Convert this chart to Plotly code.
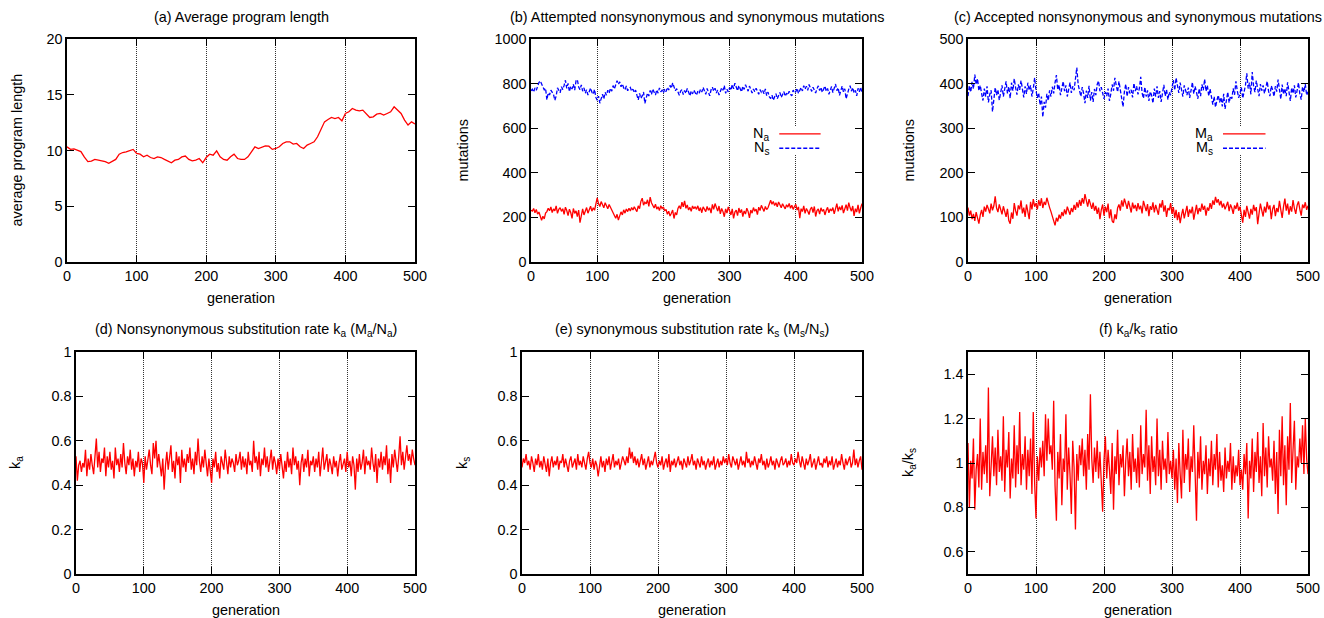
import plotly.graph_objects as go

# ---------------- data ----------------
GEN_LEN = list(range(0, 501, 5))
avg_length = [
    10.33, 10.10, 10.15, 10.03, 9.90, 9.40, 9.00, 9.05, 9.20, 9.13,
    9.07, 9.00, 8.85, 9.00, 9.20, 9.67, 9.82, 9.88, 9.97, 10.10,
    9.73, 9.67, 9.43, 9.58, 9.37, 9.28, 9.43, 9.37, 9.20, 9.07,
    8.90, 9.13, 9.20, 9.43, 9.50, 9.20, 9.07, 9.13, 9.28, 8.90,
    9.37, 9.67, 9.58, 9.97, 9.43, 9.20, 9.13, 9.43, 9.67, 9.28,
    9.20, 9.20, 9.43, 9.88, 10.33, 10.18, 10.33, 10.42, 10.39, 10.10,
    10.18, 10.33, 10.63, 10.78, 10.78, 10.57, 10.63, 10.33, 10.18, 10.48,
    10.63, 10.78, 11.23, 11.83, 12.57, 12.78, 12.96, 12.87, 12.96, 12.66,
    13.32, 13.47, 13.77, 13.62, 13.56, 13.62, 13.32, 12.96, 13.02, 13.26,
    13.32, 13.17, 13.32, 13.47, 13.92, 13.62, 13.32, 12.72, 12.28, 12.57,
    12.37,
]

GEN = list(range(0, 501, 2))

Na = [
    232, 228, 240, 221, 236, 215, 224, 198, 187, 205, 193, 219, 226, 241, 230, 247, 222, 238, 229, 252, 218, 236, 244, 227, 239,
    214, 246, 231, 208, 237, 222, 196, 240, 218, 229, 204, 233, 176, 215, 238, 211, 226, 244, 219, 237, 250, 228, 243, 232, 256,
    288, 262, 249, 271, 255, 243, 266, 251, 239, 258, 247, 231, 222, 208, 196, 214, 188, 207, 225, 211, 234, 219, 238, 226, 241,
    229, 244, 233, 248, 236, 226, 252, 239, 272, 286, 255, 268, 261, 279, 249, 291, 266, 253, 242, 259, 237, 248, 231, 252, 240,
    247, 229, 236, 214, 228, 206, 219, 233, 195, 222, 211, 240, 252, 238, 268, 247, 274, 241, 256, 233, 245, 227, 251, 239, 248,
    236, 252, 229, 244, 221, 247, 238, 226, 249, 232, 243, 219, 258, 236, 262, 244, 228, 251, 216, 240, 226, 203, 238, 219, 247,
    229, 211, 238, 196, 224, 233, 208, 242, 221, 236, 204, 229, 215, 241, 226, 198, 233, 219, 244, 228, 237, 212, 246, 231, 254,
    238, 227, 249, 235, 243, 262, 277, 259, 271, 253, 266, 248, 269, 257, 243, 261, 250, 238, 257, 246, 263, 241, 255, 236, 249,
    258, 233, 247, 197, 239, 226, 252, 218, 240, 229, 213, 237, 246, 222, 249, 204, 231, 238, 215, 243, 227, 236, 211, 232, 245,
    221, 238, 229, 244, 216, 235, 262, 227, 248, 233, 254, 219, 241, 257, 230, 266, 243, 228, 251, 207, 239, 224, 256, 218, 242,
    262,
]

Ns = [
    768, 775, 762, 781, 770, 789, 805, 812, 798, 786, 772, 779, 727, 758, 749, 771, 763, 752, 725, 744, 781, 768, 759, 786, 773,
    792, 815, 779, 801, 764, 788, 776, 797, 771, 812, 818, 785, 773, 794, 766, 781, 757, 772, 749, 768, 780, 761, 752, 774, 738,
    725, 744, 712, 738, 752, 731, 761, 748, 770, 757, 779, 766, 791, 776, 802, 813, 797, 808, 786, 799, 781, 772, 789, 768, 777,
    783, 766, 775, 759, 771, 748, 727, 756, 734, 745, 762, 711, 739, 758, 744, 769, 752, 776, 761, 749, 772, 757, 781, 763, 770,
    758, 776, 764, 783, 771, 792, 779, 803, 785, 768, 777, 759, 748, 766, 773, 751, 769, 756, 778, 762, 745, 767, 754, 771, 760,
    748, 766, 757, 774, 762, 783, 769, 752, 778, 761, 745, 772, 784, 766, 779, 758, 771, 749, 764, 781, 770, 791, 756, 775, 763,
    782, 770, 796, 777, 802, 785, 768, 791, 779, 763, 788, 774, 795, 781, 766, 789, 772, 758, 776, 764, 779, 767, 752, 773, 761,
    769, 754, 776, 746, 762, 741, 733, 748, 725, 739, 755, 732, 747, 760, 738, 751, 764, 743, 757, 749, 766, 752, 745, 771, 758,
    764, 779, 756, 772, 783, 767, 791, 775, 788, 770, 796, 781, 765, 784, 772, 758, 777, 790, 769, 783, 761, 774, 789, 766, 778,
    752, 771, 787, 760, 776, 798, 768, 781, 747, 772, 789, 763, 777, 732, 759, 775, 791, 766, 782, 758, 770, 745, 779, 763, 784,
    757,
]

Ma = [
    122, 104, 115, 96, 108, 92, 112, 99, 86, 105, 117, 101, 124, 113, 128, 119, 109, 131, 116, 126, 147, 121, 112, 129, 118,
    107, 125, 114, 101, 119, 93, 86, 111, 97, 132, 115, 104, 127, 118, 138, 109, 122, 101, 129, 113, 96, 135, 118, 141, 124,
    132, 118, 139, 126, 143, 121, 135, 128, 144, 131, 122, 113, 104, 95, 82, 99, 91, 106, 97, 112, 103, 118, 107, 124, 113,
    106, 121, 112, 128, 117, 134, 122, 139, 126, 143, 131, 152, 137, 124, 141, 128, 119, 133, 115, 126, 108, 122, 96, 117, 129,
    104, 124, 112, 131, 98, 118, 92, 88, 107, 96, 121, 129, 115, 138, 124, 142, 131, 119, 137, 125, 111, 133, 120, 128, 114,
    132, 118, 126, 109, 137, 121, 114, 130, 103, 125, 117, 134, 111, 128, 119, 106, 131, 122, 139, 113, 127, 101, 121, 116, 132,
    108, 123, 99, 117, 94, 112, 87, 105, 119, 98, 113, 126, 101, 118, 109, 124, 95, 116, 128, 107, 121, 113, 131, 117, 126,
    104, 122, 115, 132, 119, 138, 128, 146, 133, 141, 127, 137, 122, 131, 118, 126, 135, 114, 129, 121, 108, 127, 119, 133, 115,
    124, 109, 88, 117, 101, 126, 113, 97, 119, 106, 128, 114, 123, 85, 109, 131, 116, 102, 124, 111, 135, 118, 127, 96, 119,
    128, 103, 121, 112, 137, 117, 99, 124, 142, 115, 131, 106, 125, 113, 139, 120, 108, 127, 136, 118, 104, 129, 121, 134, 117,
    126,
]

Ms = [
    372, 395, 381, 404, 388, 420, 398, 411, 384, 396, 378, 362, 389, 371, 394, 358, 376, 385, 337, 369, 391, 374, 386, 363, 380,
    396, 371, 389, 405, 378, 393, 367, 402, 384, 411, 391, 375, 398, 386, 407, 381, 369, 394, 377, 402, 385, 396, 371, 389, 413,
    384, 368, 379, 352, 371, 325, 359, 346, 377, 362, 385, 371, 393, 378, 402, 419, 386, 397, 374, 391, 405, 383, 396, 371, 388,
    402, 379, 394, 385, 411, 436, 398, 387, 371, 392, 378, 356, 384, 368, 395, 362, 381, 359, 388, 374, 398, 406, 383, 392, 378,
    366, 381, 372, 389, 361, 377, 398, 384, 413, 396, 381, 405, 387, 373, 348, 382, 399, 371, 392, 378, 386, 369, 401, 383, 394,
    376, 389, 415, 379, 367, 392, 371, 385, 361, 382, 374, 356, 389, 371, 394, 368, 383, 359, 378, 397, 372, 386, 364, 381, 374,
    392, 408, 385, 413, 396, 379, 402, 388, 371, 396, 382, 374, 391, 368, 385, 403, 377, 394, 381, 366, 389, 372, 398, 385, 410,
    383, 396, 372, 388, 366, 353, 371, 347, 362, 374, 358, 369, 349, 377, 343, 365, 381, 357, 372, 366, 389, 375, 405, 384, 368,
    378, 392, 367, 381, 396, 423, 389, 402, 376, 426, 394, 381, 407, 388, 372, 399, 384, 396, 378, 391, 405, 383, 372, 395, 386,
    371, 394, 382, 409, 387, 365, 398, 376, 389, 372, 403, 384, 361, 391, 378, 396, 369, 385, 402, 377, 364, 393, 381, 399, 374,
    382,
]

ka = [
    0.53, 0.42, 0.49, 0.51, 0.46, 0.50, 0.48, 0.56, 0.44, 0.52, 0.47, 0.54, 0.49, 0.45, 0.53, 0.61, 0.48, 0.55, 0.46, 0.52, 0.50, 0.57, 0.44, 0.53, 0.48,
    0.55, 0.47, 0.51, 0.43, 0.57, 0.49, 0.52, 0.46, 0.54, 0.48, 0.59, 0.50, 0.45, 0.53, 0.49, 0.56, 0.47, 0.52, 0.44, 0.51, 0.48, 0.55, 0.46, 0.52, 0.50,
    0.41, 0.53, 0.47, 0.51, 0.56, 0.49, 0.45, 0.59, 0.52, 0.60, 0.48, 0.54, 0.50, 0.44, 0.52, 0.38, 0.49, 0.55, 0.47, 0.53, 0.58, 0.46, 0.51, 0.43, 0.55,
    0.49, 0.53, 0.41, 0.56, 0.48, 0.52, 0.46, 0.54, 0.50, 0.57, 0.47, 0.52, 0.45, 0.55, 0.49, 0.61, 0.51, 0.46, 0.53, 0.48, 0.56, 0.50, 0.44, 0.52, 0.47,
    0.41, 0.52, 0.48, 0.55, 0.46, 0.50, 0.43, 0.53, 0.49, 0.47, 0.56, 0.51, 0.45, 0.53, 0.48, 0.52, 0.50, 0.46, 0.54, 0.49, 0.51, 0.55, 0.47, 0.53, 0.48,
    0.52, 0.45, 0.55, 0.49, 0.51, 0.46, 0.60, 0.50, 0.53, 0.47, 0.55, 0.44, 0.52, 0.49, 0.57, 0.48, 0.53, 0.46, 0.51, 0.56, 0.47, 0.53, 0.50, 0.45, 0.52,
    0.47, 0.54, 0.49, 0.43, 0.51, 0.46, 0.55, 0.48, 0.52, 0.45, 0.57, 0.49, 0.53, 0.47, 0.51, 0.40, 0.50, 0.54, 0.46, 0.52, 0.48, 0.56, 0.44, 0.51, 0.49,
    0.53, 0.46, 0.52, 0.48, 0.55, 0.44, 0.51, 0.57, 0.47, 0.50, 0.54, 0.46, 0.52, 0.49, 0.45, 0.53, 0.48, 0.51, 0.44, 0.50, 0.54, 0.47, 0.49, 0.52, 0.46,
    0.55, 0.48, 0.51, 0.44, 0.53, 0.49, 0.38, 0.52, 0.46, 0.54, 0.47, 0.50, 0.56, 0.45, 0.53, 0.49, 0.51, 0.47, 0.57, 0.50, 0.46, 0.54, 0.41, 0.52, 0.48,
    0.55, 0.47, 0.53, 0.49, 0.58, 0.45, 0.52, 0.41, 0.54, 0.48, 0.56, 0.50, 0.46, 0.53, 0.62, 0.49, 0.55, 0.47, 0.52, 0.58, 0.51, 0.54, 0.49, 0.56, 0.52,
    0.49,
]

ks = [
    0.48, 0.52, 0.50, 0.54, 0.49, 0.51, 0.47, 0.53, 0.50, 0.46, 0.52, 0.49, 0.54, 0.48, 0.51, 0.47, 0.53, 0.50, 0.46, 0.52, 0.44, 0.50, 0.53, 0.48, 0.51,
    0.49, 0.53, 0.47, 0.51, 0.50, 0.54, 0.48, 0.52, 0.49, 0.46, 0.51, 0.53, 0.48, 0.50, 0.52, 0.47, 0.54, 0.49, 0.51, 0.48, 0.53, 0.50, 0.47, 0.52, 0.55,
    0.50, 0.48, 0.52, 0.47, 0.51, 0.49, 0.44, 0.50, 0.53, 0.48, 0.51, 0.46, 0.52, 0.49, 0.53, 0.47, 0.50, 0.54, 0.48, 0.51, 0.49, 0.52, 0.47, 0.50, 0.53,
    0.51, 0.49, 0.53, 0.50, 0.57, 0.52, 0.55, 0.50, 0.53, 0.49, 0.52, 0.48, 0.51, 0.54, 0.49, 0.52, 0.47, 0.50, 0.53, 0.48, 0.51, 0.49, 0.52, 0.55, 0.50,
    0.48, 0.51, 0.49, 0.53, 0.47, 0.50, 0.52, 0.48, 0.54, 0.46, 0.51, 0.49, 0.52, 0.48, 0.50, 0.53, 0.49, 0.51, 0.47, 0.52, 0.50, 0.48, 0.53, 0.49, 0.51,
    0.54, 0.49, 0.51, 0.47, 0.52, 0.50, 0.48, 0.53, 0.49, 0.51, 0.47, 0.50, 0.52, 0.48, 0.51, 0.49, 0.53, 0.47, 0.50, 0.52, 0.48, 0.51, 0.49, 0.53, 0.50,
    0.52, 0.49, 0.54, 0.50, 0.48, 0.53, 0.51, 0.49, 0.52, 0.47, 0.50, 0.53, 0.49, 0.51, 0.48, 0.55, 0.50, 0.52, 0.48, 0.51, 0.49, 0.53, 0.50, 0.47, 0.52,
    0.50, 0.54, 0.49, 0.51, 0.47, 0.52, 0.48, 0.50, 0.53, 0.49, 0.51, 0.47, 0.52, 0.50, 0.48, 0.51, 0.53, 0.49, 0.50, 0.52, 0.48, 0.51, 0.49, 0.54, 0.50,
    0.49, 0.52, 0.50, 0.55, 0.51, 0.48, 0.53, 0.50, 0.47, 0.52, 0.49, 0.51, 0.54, 0.48, 0.50, 0.52, 0.47, 0.51, 0.53, 0.49, 0.50, 0.48, 0.52, 0.50, 0.53,
    0.48, 0.51, 0.49, 0.53, 0.47, 0.50, 0.52, 0.48, 0.51, 0.49, 0.54, 0.50, 0.47, 0.52, 0.49, 0.51, 0.53, 0.48, 0.50, 0.56, 0.49, 0.52, 0.48, 0.51, 0.53,
    0.47,
]

ka_ks = [
    1.09, 0.80, 1.01, 0.93, 1.11, 0.79, 0.97, 1.04, 0.89, 1.20, 0.88, 1.05, 0.95, 1.08, 0.91, 1.34, 0.85, 1.02, 1.12, 0.94, 1.07, 0.90, 1.15, 0.96, 1.03,
    0.92, 1.21, 0.87, 1.06, 0.98, 1.14, 0.84, 1.02, 0.93, 1.17, 0.89, 1.08, 0.95, 1.23, 0.90, 1.04, 0.97, 1.12, 0.88, 1.06, 0.94, 1.11, 0.86, 1.23, 0.91,
    0.75, 1.03, 0.92, 1.07, 0.98, 1.10, 0.94, 1.22, 1.01, 1.20, 1.04, 1.08, 0.97, 1.28, 0.90, 0.74, 1.05, 0.93, 1.13, 0.81, 1.02, 0.96, 1.22, 0.88, 1.07,
    0.95, 0.77, 1.10, 0.98, 0.70, 1.04, 0.92, 1.08, 0.99, 1.11, 0.94, 1.06, 0.88, 1.13, 0.97, 1.31, 1.02, 0.91, 1.07, 0.96, 1.10, 0.93, 1.05, 0.89, 0.78,
    1.01, 1.12, 0.93, 1.06, 0.97, 0.86, 1.09, 0.79, 1.03, 0.95, 1.15, 0.90, 1.04, 0.98, 1.08, 0.85, 1.01, 1.11, 0.94, 1.05, 0.88, 1.13, 0.96, 1.02, 0.91,
    1.07, 0.89, 1.17, 0.95, 1.04, 0.98, 1.24, 0.92, 1.08, 0.86, 1.12, 0.96, 1.03, 0.90, 1.20, 0.94, 1.06, 0.88, 1.10, 0.97, 1.02, 0.91, 1.14, 0.95, 1.01,
    0.93, 1.06, 0.88, 1.02, 0.82, 1.09, 0.95, 0.84, 1.15, 0.91, 1.04, 0.97, 1.11, 0.87, 1.03, 0.96, 1.17, 0.90, 0.74, 1.05, 0.93, 1.12, 0.88, 1.01, 0.95,
    1.08, 0.86, 1.02, 0.94, 1.10, 0.90, 1.04, 0.97, 1.13, 0.89, 1.05, 0.92, 0.99, 0.87, 1.07, 0.93, 1.01, 0.96, 1.09, 0.88, 1.03, 0.91, 0.99, 0.94, 1.06,
    0.90, 0.97, 0.88, 1.04, 0.95, 1.09, 0.75, 1.01, 0.93, 1.11, 0.87, 1.05, 0.96, 1.14, 0.91, 1.03, 0.85, 1.18, 0.94, 1.07, 0.89, 1.12, 0.98, 1.02, 0.92,
    1.10, 0.86, 1.05, 0.77, 1.15, 0.94, 1.21, 0.90, 1.08, 0.81, 1.12, 0.97, 1.27, 0.91, 1.06, 1.19, 0.88, 1.03, 0.98, 1.11, 1.00, 1.17, 0.95, 1.20, 1.02,
    0.95,
]

X_TICKS = [0, 100, 200, 300, 400, 500]

TITLES = [
    "(a) Average program length",
    "(b) Attempted nonsynonymous and synonymous mutations",
    "(c) Accepted nonsynonymous and synonymous mutations",
    "(d) Nonsynonymous substitution rate k<sub>a</sub> (M<sub>a</sub>/N<sub>a</sub>)",
    "(e) synonymous substitution rate k<sub>s</sub> (M<sub>s</sub>/N<sub>s</sub>)",
    "(f) k<sub>a</sub>/k<sub>s</sub> ratio",
]
Y_TITLES = ["average program length", "mutations", "mutations",
            "k<sub>a</sub>", "k<sub>s</sub>", "k<sub>a</sub>/k<sub>s</sub>"]
X_TITLE = "generation"

# ---------------- layout geometry (pixels in the 1324x618 page) ----------------
W, H = 1324, 618
FONT = "Liberation Sans, Arial, Helvetica, sans-serif"
FS = 14.4
RED = "#ff0000"
BLUE = "#0000ff"
DASH = "4px,2px"


def px(x):
    return x / W


def py(y):
    return 1 - y / H


panels = [
    # (x0, x1, y0, y1, yrange, ytick step, ytitle x)
    (67, 415, 39, 262, [0, 20], 5, 17),
    (531, 862, 39, 262, [0, 1000], 200, 463),
    (968, 1308, 39, 262, [0, 500], 100, 909),
    (76, 415, 352, 574, [0, 1], 0.2, 16),
    (522, 862, 352, 574, [0, 1], 0.2, 463),
    (968, 1308, 352, 574, [0.5, 1.5], 0.2, 909),
]

fig = go.Figure()


def add(x, y, i, color, dash="solid"):
    sfx = "" if i == 1 else str(i)
    fig.add_trace(go.Scatter(x=x, y=y, mode="lines", xaxis="x" + sfx, yaxis="y" + sfx,
                             line=dict(color=color, width=1.3, dash=dash),
                             hoverinfo="skip", showlegend=False))


add(GEN_LEN, avg_length, 1, RED)
add(GEN, Ns, 2, BLUE, DASH)
add(GEN, Na, 2, RED)
add(GEN, Ms, 3, BLUE, DASH)
add(GEN, Ma, 3, RED)
add(GEN, ka, 4, RED)
add(GEN, ks, 5, RED)
add(GEN, ka_ks, 6, RED)

annotations = []
shapes = []
layout = {}
for i, (x0, x1, y0, y1, yr, ystep, ytx) in enumerate(panels, start=1):
    sfx = "" if i == 1 else str(i)
    xd = [px(x0), px(x1)]
    yd = [py(y1), py(y0)]
    common = dict(showline=True, linecolor="black", linewidth=1.6, mirror="ticks",
                  ticks="inside", ticklen=7, tickwidth=1, tickcolor="black",
                  tickfont=dict(family=FONT, size=FS, color="black"),
                  zeroline=False, fixedrange=True, automargin=False)
    layout["xaxis" + sfx] = dict(domain=xd, range=[0, 500], tickvals=X_TICKS,
                                 showgrid=True, gridcolor="#333333", griddash="1px,1px", gridwidth=1,
                                 anchor="y" + sfx, **common)
    if i == 6:
        tv = [0.6, 0.8, 1.0, 1.2, 1.4]
    else:
        n = int(round((yr[1] - yr[0]) / ystep))
        tv = [round(yr[0] + k * ystep, 6) for k in range(n + 1)]
    layout["yaxis" + sfx] = dict(domain=yd, range=yr, tickvals=tv, showgrid=False,
                                 anchor="x" + sfx, **common)
    cx = (x0 + x1) / 2
    annotations.append(dict(text=TITLES[i - 1], x=px(cx), y=py(y0 - 22), xref="paper", yref="paper",
                            xanchor="center", yanchor="middle", showarrow=False,
                            font=dict(family=FONT, size=FS, color="black")))
    annotations.append(dict(text=X_TITLE, x=px(cx), y=py(y1 + 36), xref="paper", yref="paper",
                            xanchor="center", yanchor="middle", showarrow=False,
                            font=dict(family=FONT, size=FS, color="black")))
    annotations.append(dict(text=Y_TITLES[i - 1], x=px(ytx), y=py((y0 + y1) / 2), xref="paper", yref="paper",
                            xanchor="center", yanchor="middle", showarrow=False, textangle=-90,
                            font=dict(family=FONT, size=FS, color="black")))

# legends for panels b and c (text left, line sample right, gnuplot style)
for i, (la, ls) in [(2, ("N<sub>a</sub>", "N<sub>s</sub>")), (3, ("M<sub>a</sub>", "M<sub>s</sub>"))]:
    xr = "x%d domain" % i
    yr_ = "y%d domain" % i
    shapes.append(dict(type="rect", xref=xr, yref=yr_, x0=0.675, x1=0.89, y0=0.48, y1=0.605,
                       fillcolor="white", line=dict(width=0), layer="above"))
    for lab, yy, col, dsh in [(la, 0.575, RED, "solid"), (ls, 0.51, BLUE, DASH)]:
        annotations.append(dict(text=lab, x=0.725, y=yy, xref=xr, yref=yr_, xanchor="right",
                                yanchor="middle", showarrow=False,
                                font=dict(family=FONT, size=FS, color="black")))
        shapes.append(dict(type="line", xref=xr, yref=yr_, x0=0.75, x1=0.875, y0=yy, y1=yy,
                           layer="above", line=dict(color=col, width=1.3, dash=dsh)))

fig.update_layout(width=W, height=H, margin=dict(l=0, r=0, t=0, b=0),
                  paper_bgcolor="white", plot_bgcolor="white", showlegend=False,
                  annotations=annotations, shapes=shapes, **layout)

# remove the page's default body margin so the figure sits at the window's corner
fig.write_html("out.html",
               config={"displayModeBar": False, "staticPlot": True},
               post_script="document.body.style.margin='0px';document.body.style.overflow='hidden';")
